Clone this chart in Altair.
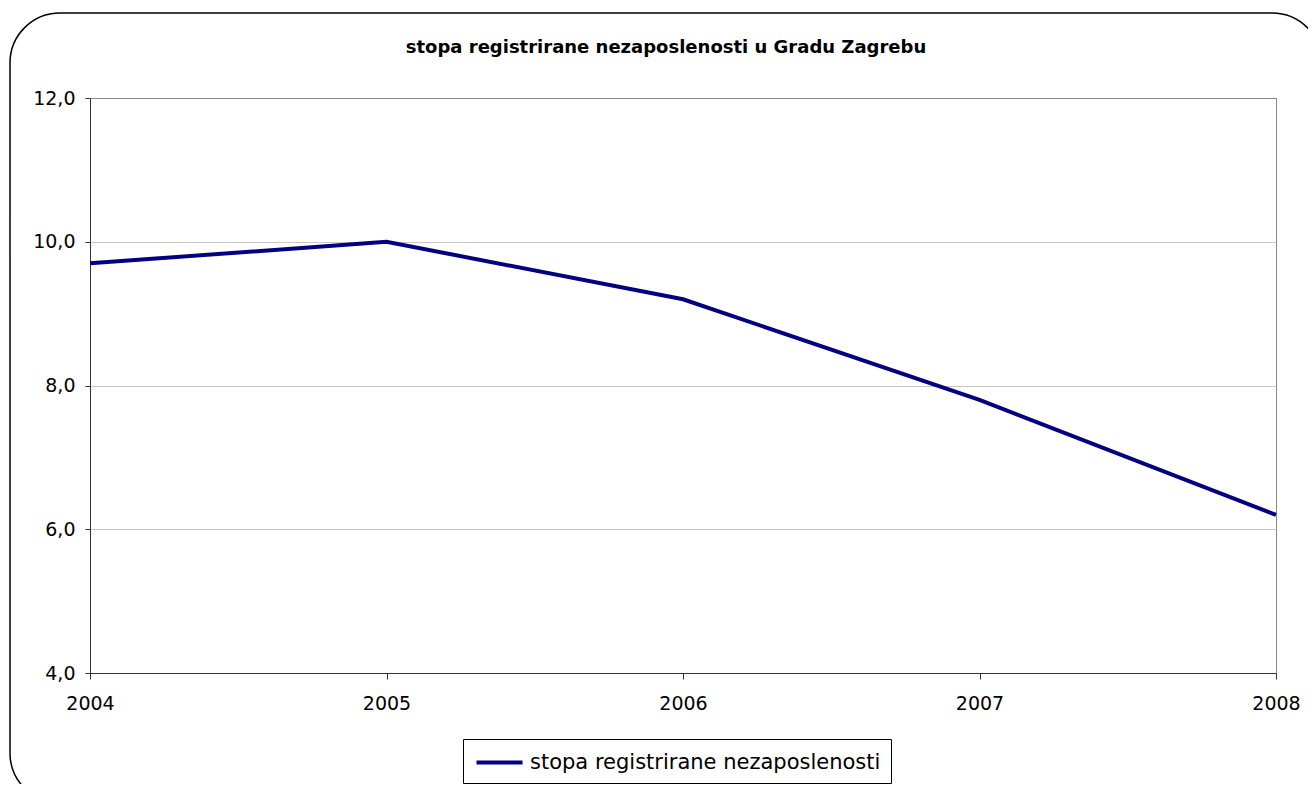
import altair as alt
import pandas as pd

years = [2004, 2005, 2006, 2007, 2008]
rates = [9.7, 10.0, 9.2, 7.8, 6.2]
series_name = "stopa registrirane nezaposlenosti"
title_text = "stopa registrirane nezaposlenosti u Gradu Zagrebu"
y_ticks = [4, 6, 8, 10, 12]

df = pd.DataFrame({"godina": years, "stopa": rates, "serija": [series_name] * len(years)})

FONT = "DejaVu Sans"

frame = alt.Chart(pd.DataFrame({"k": [0]})).mark_rect(
    filled=False, stroke="black", strokeWidth=1.5, cornerRadius=50
).encode(
    x=alt.value(-80), x2=alt.value(1232), y=alt.value(-85), y2=alt.value(705)
)

title = alt.Chart(pd.DataFrame({"t": [title_text]})).mark_text(
    font=FONT, fontSize=18, fontWeight="bold", color="black",
    align="center", baseline="alphabetic"
).encode(text="t:N", x=alt.value(576), y=alt.value(-45))

line = alt.Chart(df).mark_line(strokeWidth=4).encode(
    x=alt.X("godina:Q",
            scale=alt.Scale(domain=[2004, 2008], nice=False, zero=False),
            axis=alt.Axis(values=years, format="d", title=None, grid=False,
                          labelFlush=False, labelOverlap=False, labelBound=False,
                          tickSize=6, labelPadding=15, tickColor="#333333",
                          domainColor="#333333", labelFont=FONT, labelFontSize=19,
                          labelColor="black")),
    y=alt.Y("stopa:Q",
            scale=alt.Scale(domain=[4, 12], nice=False, zero=False),
            axis=alt.Axis(values=y_ticks, title=None, grid=True,
                          gridColor={"condition": {"test": "datum.value === 12", "value": "#888888"},
                                     "value": "#c8c8c8"},
                          labelExpr="replace(format(datum.value, '.1f'), '.', ',')",
                          tickSize=5, labelPadding=10, tickColor="#333333",
                          domainColor="#333333", labelFont=FONT, labelFontSize=19,
                          labelColor="black")),
    color=alt.Color("serija:N",
                    scale=alt.Scale(range=["#000080"]),
                    legend=alt.Legend(title=None, orient="none", legendX=373, legendY=641,
                                      symbolType="M-2,0H2", symbolSize=529, symbolStrokeWidth=4,
                                      symbolOffset=13, symbolFillColor="transparent",
                                      labelFont=FONT, labelFontSize=21, labelColor="black",
                                      labelLimit=600, labelOffset=17, padding=10,
                                      strokeColor="black", fillColor="white", rowPadding=0)),
)

chart = alt.layer(frame, title, line).properties(
    width=1186, height=575,
    padding={"left": 82, "top": 90, "right": 32, "bottom": 111},
    autosize=alt.AutoSizeParams(type="none"),
    background="white",
).configure_view(stroke="#888888", strokeWidth=1)

chart.save("out.html", embed_options={"renderer": "svg", "actions": False})
